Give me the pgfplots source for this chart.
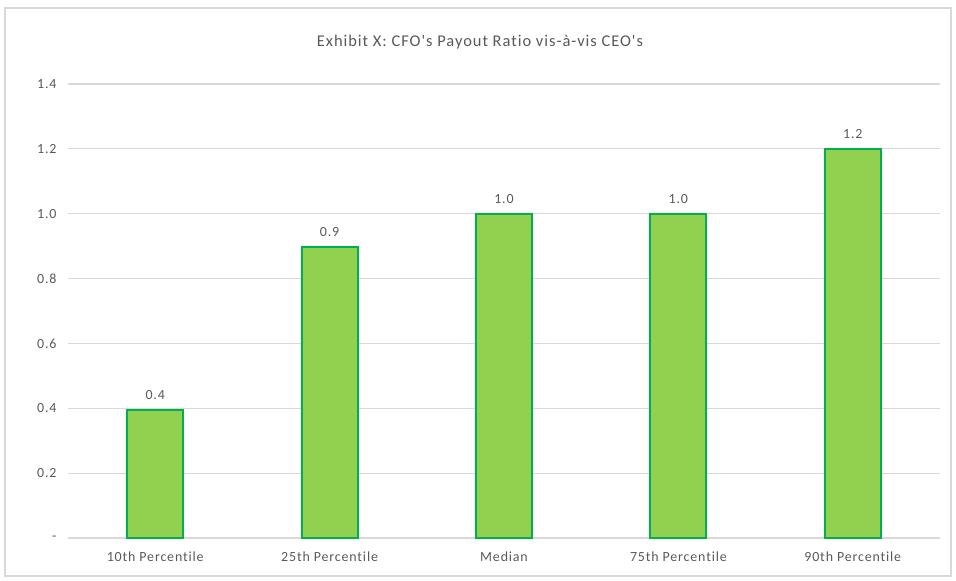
\documentclass[border=0pt]{standalone}
\usepackage{pgfplots}
\pgfplotsset{compat=1.18}
\usepackage{fontspec}
\setmainfont{Carlito}
\newfontfamily\wide[LetterSpace=6, Ligatures={NoCommon}]{Carlito}
\definecolor{txt}{HTML}{595959}
\definecolor{gridc}{HTML}{D9D9D9}
\definecolor{barfill}{HTML}{92D050}
\definecolor{barline}{HTML}{00B050}
\begin{document}
\begin{tikzpicture}
\useasboundingbox (-68bp,-43bp) rectangle (888bp,538bp);
\draw[gridc, line width=1.2bp] (-63bp,-38bp) rectangle (883bp,530bp);
\begin{axis}[
  at={(0bp,0bp)}, anchor=south west,
  scale only axis, width=872bp, height=454bp,
  xmin=-0.5, xmax=4.5, ymin=0, ymax=1.4,
  xtick=data,
  xticklabels={10th Percentile,25th Percentile,Median,75th Percentile,90th Percentile},
  ytick={0,0.2,0.4,0.6,0.8,1.0,1.2,1.4},
  yticklabels={-,0.2,0.4,0.6,0.8,1.0,1.2,1.4},
  ymajorgrids, grid style={gridc, line width=1.2bp},
  axis x line*=bottom, axis y line*=left,
  x axis line style={gridc, line width=1.2bp, -},
  y axis line style={draw=none},
  tick style={draw=none},
  ticklabel style={font=\wide\fontsize{14}{16}\selectfont, text=txt},
  yticklabel style={xshift=-8bp},
  xticklabel style={yshift=-6bp},
  ybar, bar width=56bp,
  nodes near coords,
  point meta=explicit symbolic,
  every node near coord/.append style={font=\wide\fontsize{14}{16}\selectfont, text=txt, yshift=6bp},
  clip=false,
]
\addplot[fill=barfill, draw=barline, line width=2bp] table[meta=lab] {
x y lab
0 0.395 0.4
1 0.897 0.9
2 1.0 1.0
3 1.0 1.0
4 1.2 1.2
};
\end{axis}
\node[text=txt, font=\wide\fontsize{16.5}{19}\selectfont] at (412bp,496bp) {Exhibit X: CFO's Payout Ratio vis-à-vis CEO's};
\end{tikzpicture}
\end{document}
